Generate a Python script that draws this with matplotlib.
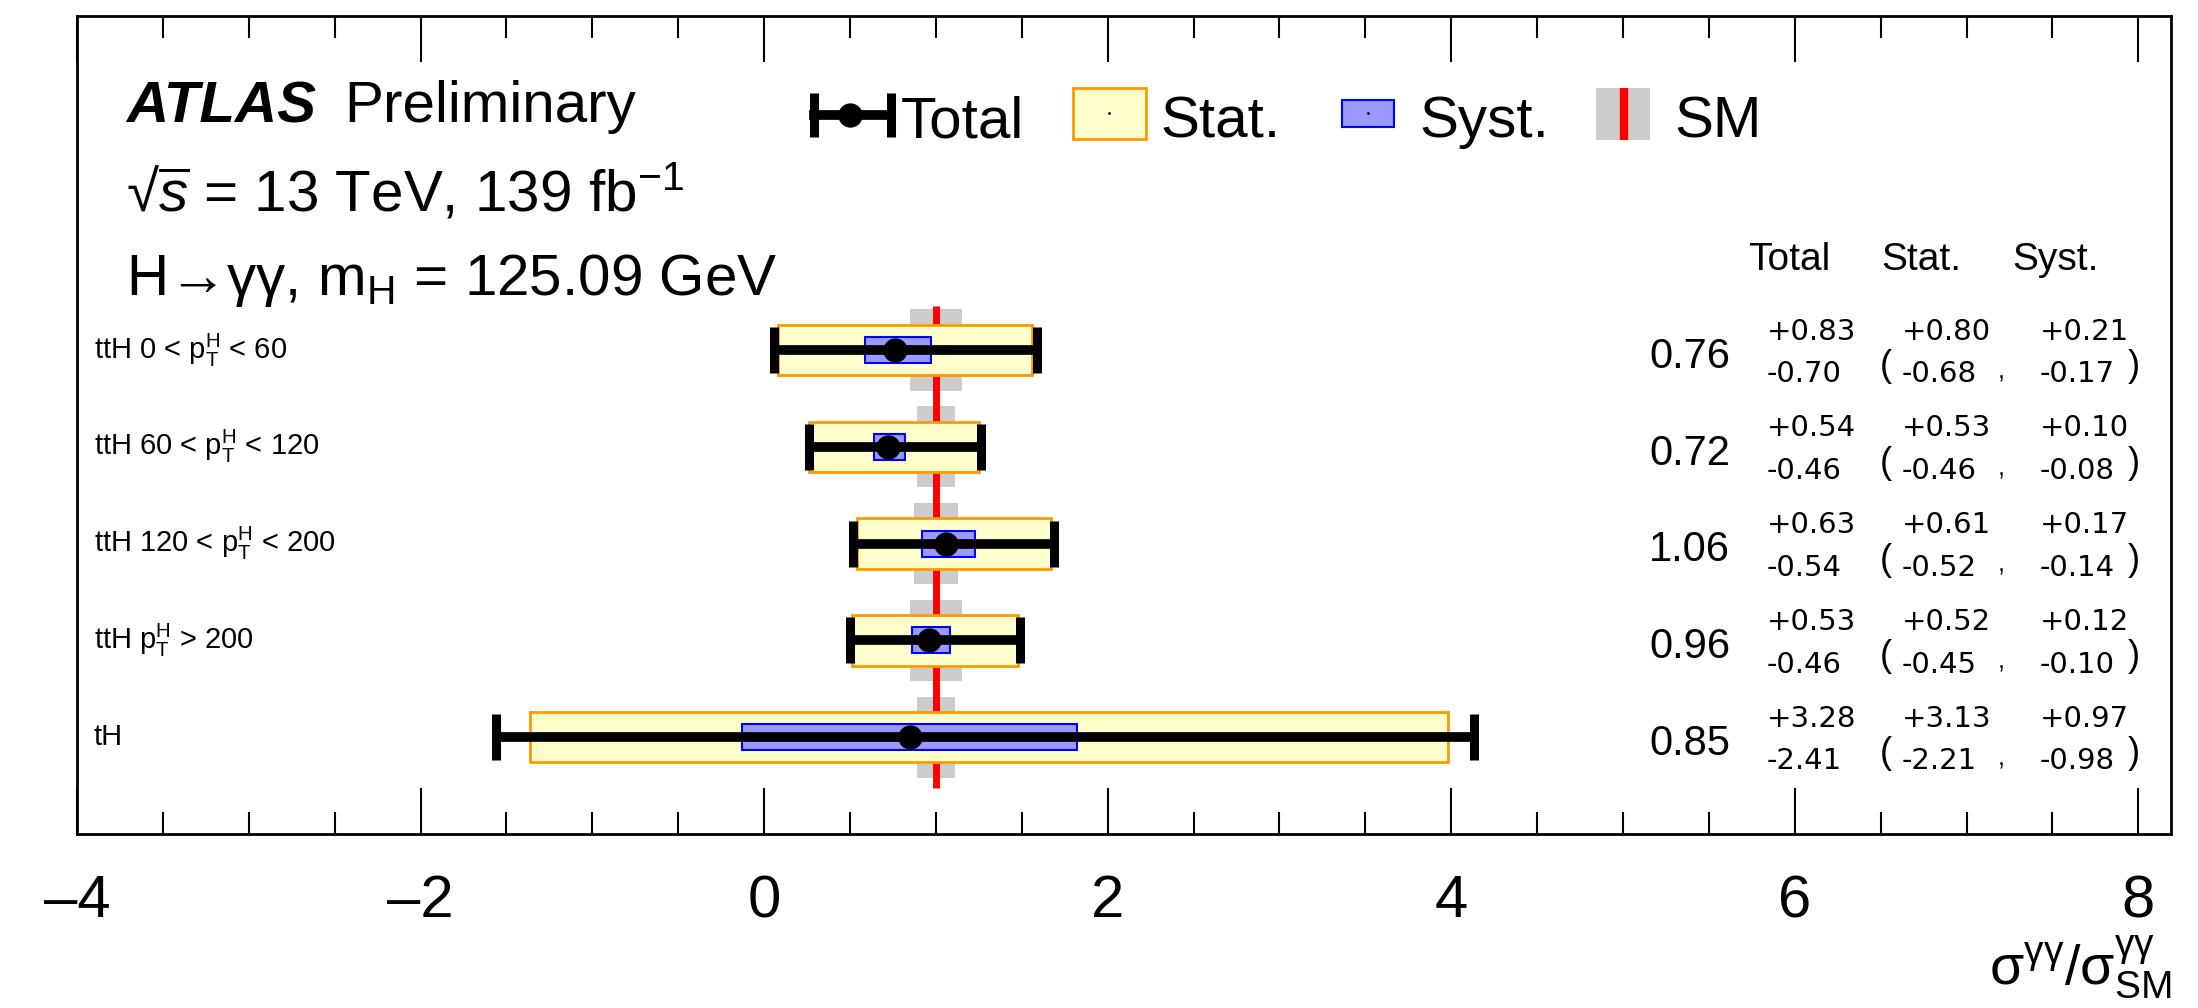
import matplotlib
matplotlib.use('Agg')
import matplotlib.pyplot as plt
from matplotlib.patches import Rectangle
from matplotlib.ticker import MultipleLocator, FuncFormatter

plt.rcParams['font.family'] = ['Liberation Sans', 'DejaVu Sans']
plt.rcParams['mathtext.fontset'] = 'custom'
plt.rcParams['mathtext.rm'] = 'Liberation Sans'
plt.rcParams['mathtext.it'] = 'Liberation Sans:italic'
plt.rcParams['mathtext.bf'] = 'Liberation Sans:bold'

# data, top row first
labels = [r'ttH 0 < $\mathregular{p_T^H}$ < 60',
          r'ttH 60 < $\mathregular{p_T^H}$ < 120',
          r'ttH 120 < $\mathregular{p_T^H}$ < 200',
          r'ttH $\mathregular{p_T^H}$ > 200',
          'tH']
central = [0.76, 0.72, 1.06, 0.96, 0.85]
tot_up = [0.83, 0.54, 0.63, 0.53, 3.28]
tot_dn = [0.70, 0.46, 0.54, 0.46, 2.41]
stat_up = [0.80, 0.53, 0.61, 0.52, 3.13]
stat_dn = [0.68, 0.46, 0.52, 0.45, 2.21]
syst_up = [0.21, 0.10, 0.17, 0.12, 0.97]
syst_dn = [0.17, 0.08, 0.14, 0.10, 0.98]
sm_unc = [0.15, 0.11, 0.13, 0.15, 0.11]

n = len(labels)
ypos = [n - i for i in range(n)]

fig = plt.figure(figsize=(21.98, 10.08), dpi=100)
ax = fig.add_axes([77 / 2198, 1 - 834 / 1008, 2094 / 2198, 818 / 1008])

# SM band + line
ax.barh(ypos, [2 * s for s in sm_unc], left=[1 - s for s in sm_unc], height=0.84,
        color='#cccccc', linewidth=0, zorder=1)
ax.vlines(1, min(ypos) - 0.52, max(ypos) + 0.45, color='#ff0000', lw=5, zorder=2)

# stat and syst boxes
ax.barh(ypos, [u + d for u, d in zip(stat_up, stat_dn)],
        left=[c - d for c, d in zip(central, stat_dn)], height=0.52,
        color='#ffffcc', edgecolor='#ff9900', linewidth=2, zorder=3)
ax.barh(ypos, [u + d for u, d in zip(syst_up, syst_dn)],
        left=[c - d for c, d in zip(central, syst_dn)], height=0.27,
        color='#9999ff', edgecolor='#0000ff', linewidth=1.5, zorder=4)

# total error
ax.errorbar(central, ypos, xerr=[tot_dn, tot_up], fmt='o', color='black',
            ms=16.5, elinewidth=7, capsize=16.5, capthick=6.5, zorder=5)

ax.set_xlim(-4, 8.19)
ax.set_ylim(0, 8.45)
ax.xaxis.set_major_locator(MultipleLocator(2))
ax.xaxis.set_minor_locator(MultipleLocator(0.5))
ax.xaxis.set_major_formatter(FuncFormatter(lambda v, p: f'{v:g}'.replace('-', '–')))
ax.set_yticks([])
ax.tick_params(axis='x', which='both', direction='in', top=True, bottom=True, width=1.5)
ax.tick_params(axis='x', which='major', length=33, labelsize=43, pad=29)
ax.tick_params(axis='x', which='minor', length=16)
for sp in ax.spines.values():
    sp.set_linewidth(2)

# row labels
yt = ax.get_yaxis_transform()
for y, lab in zip(ypos, labels):
    ax.text(0.008, y, lab, transform=yt, fontsize=21, va='center', ha='left')

# numbers on the right
ax.text(0.8176, 5.93, 'Total', transform=yt, fontsize=28, ha='center', va='center')
ax.text(0.8806, 5.93, 'Stat.', transform=yt, fontsize=28, ha='center', va='center')
ax.text(0.9446, 5.93, 'Syst.', transform=yt, fontsize=28, ha='center', va='center')
small = dict(transform=yt, fontsize=21, va='center', family='DejaVu Sans')
for i, y in enumerate(ypos):
    ax.text(0.7894, y - 0.07, f'{central[i]:.2f}', transform=yt, fontsize=30,
            ha='right', va='center')
    ax.text(0.8071, y + 0.19, f'+{tot_up[i]:.2f}', **small)
    ax.text(0.8071, y - 0.25, f'-{tot_dn[i]:.2f}', **small)
    ax.text(0.8639, y - 0.17, '(', transform=yt, fontsize=26, ha='center', va='center')
    ax.text(0.8715, y + 0.19, f'+{stat_up[i]:.2f}', **small)
    ax.text(0.8715, y - 0.25, f'-{stat_dn[i]:.2f}', **small)
    ax.text(0.9188, y - 0.22, ',', transform=yt, fontsize=18, ha='center', va='center')
    ax.text(0.9374, y + 0.19, f'+{syst_up[i]:.2f}', **small)
    ax.text(0.9374, y - 0.25, f'-{syst_dn[i]:.2f}', **small)
    ax.text(0.9823, y - 0.17, ')', transform=yt, fontsize=26, ha='center', va='center')

# ATLAS labels
ta = ax.transAxes
ax.text(0.0234, 0.8704, 'ATLAS', transform=ta, fontsize=42, fontweight='bold',
        style='italic', va='baseline')
ax.text(0.1275, 0.8704, 'Preliminary', transform=ta, fontsize=42, va='baseline')
ax.text(0.0234, 0.7628, r'√$\overline{s}$ = 13 TeV, 139 fb$^{\mathregular{-1}}$', transform=ta,
        fontsize=42, va='baseline')
ax.text(0.0234, 0.659, r'H→γγ, m$_{\mathregular{H}}$ = 125.09 GeV', transform=ta,
        fontsize=42, va='baseline')

# legend drawn by hand
ly = 0.8795
ax.plot([0.3520, 0.3887], [ly, ly], color='black', lw=7, transform=ta, clip_on=False)
ax.plot([0.3520, 0.3887], [ly, ly], ls='none', marker='|', ms=32, mew=6.5,
        color='black', transform=ta, clip_on=False)
ax.plot([0.3692], [ly], marker='o', ms=16.5, color='black', transform=ta, clip_on=False)
ax.text(0.3935, 0.852, 'Total', transform=ta, fontsize=42, va='baseline')

ax.add_patch(Rectangle((0.4756, 0.8496), 0.0349, 0.0624, transform=ta,
                       facecolor='#ffffcc', edgecolor='#ff9900', lw=2))
ax.plot([0.4930], [0.881], marker='.', ms=2, color='black', transform=ta)
ax.text(0.5172, 0.852, 'Stat.', transform=ta, fontsize=42, va='baseline')

ax.add_patch(Rectangle((0.6041, 0.8643), 0.0248, 0.033, transform=ta,
                       facecolor='#9999ff', edgecolor='#0000ff', lw=1.5))
ax.plot([0.6165], [0.881], marker='.', ms=2, color='black', transform=ta)
ax.text(0.6409, 0.852, 'Syst.', transform=ta, fontsize=42, va='baseline')

ax.add_patch(Rectangle((0.7254, 0.8484), 0.0258, 0.0636, transform=ta,
                       facecolor='#cccccc', edgecolor='none'))
ax.plot([0.7388, 0.7388], [0.8484, 0.912], color='#ff0000', lw=6, transform=ta,
        solid_capstyle='butt')
ax.text(0.7627, 0.852, 'SM', transform=ta, fontsize=42, va='baseline')

# x axis title
ax.text(1.0, -0.122, r'$\mathregular{σ^{γγ}/σ^{γγ}_{SM}}$', transform=ta, fontsize=40,
        ha='right', va='top')

fig.savefig('out.png', dpi=100)
